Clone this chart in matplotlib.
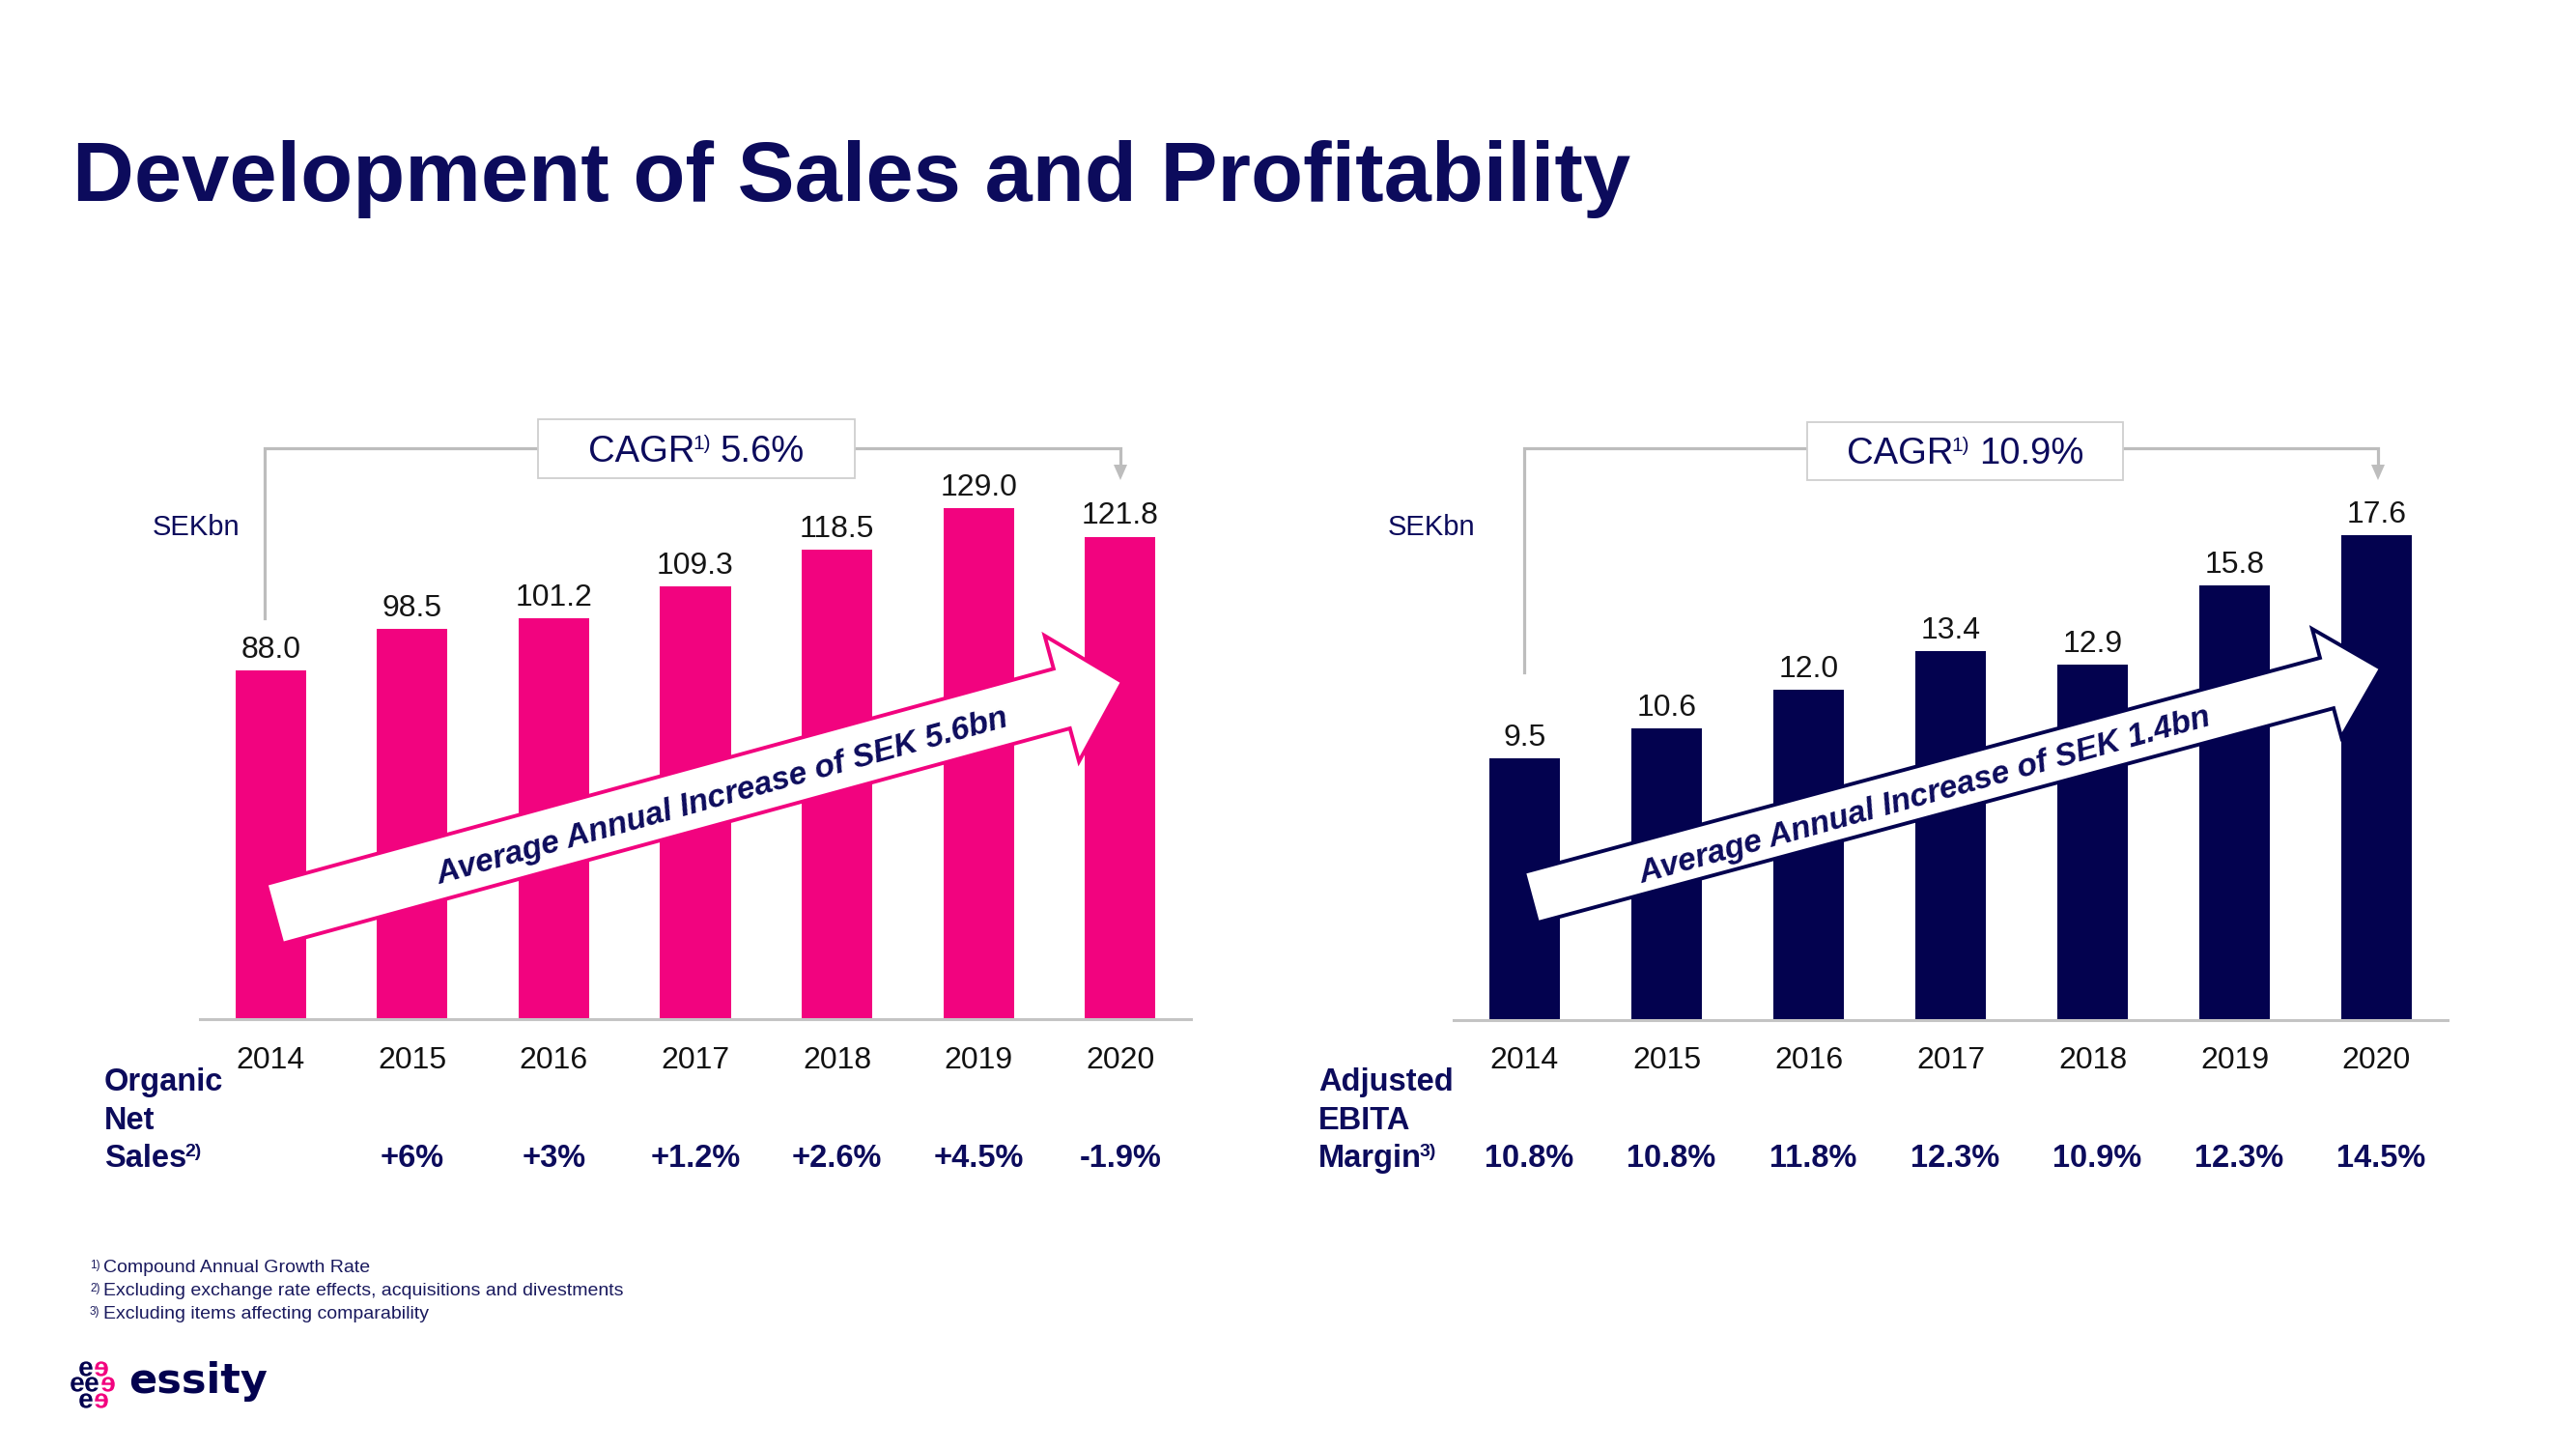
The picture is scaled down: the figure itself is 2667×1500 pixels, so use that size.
"""Essity slide: development of sales and profitability"""

import matplotlib

matplotlib.use("Agg")
import matplotlib.pyplot as plt
import matplotlib.transforms as mtransforms
from matplotlib.font_manager import FontProperties
from matplotlib.patches import PathPatch, Polygon, Rectangle
from matplotlib.textpath import TextPath
import numpy as np

W, H = 2667, 1500

years = ["2014", "2015", "2016", "2017", "2018", "2019", "2020"]
net_sales = [88.0, 98.5, 101.2, 109.3, 118.5, 129.0, 121.8]
organic_growth = ["", "+6%", "+3%", "+1.2%", "+2.6%", "+4.5%", "-1.9%"]
adj_ebita = [9.5, 10.6, 12.0, 13.4, 12.9, 15.8, 17.6]
ebita_margin = ["10.8%", "10.8%", "11.8%", "12.3%", "10.9%", "12.3%", "14.5%"]
cagr_sales = "5.6%"
cagr_ebita = "10.9%"

PINK = "#F2037F"
NAVY = "#03024F"
TNAVY = "#0C0B5C"
GREY = "#BDBDBD"

plt.rcParams["font.family"] = ["Liberation Sans", "DejaVu Sans"]

fig = plt.figure(figsize=(W / 100, H / 100), dpi=100)


def bar_panel(x0, x1, base, top_val, px_per_unit, values, color):
    h = top_val * px_per_unit
    ax = fig.add_axes([x0 / W, (H - base) / H, (x1 - x0) / W, h / H])
    ax.bar(range(len(values)), values, width=0.5, color=color, zorder=2)
    ax.set_xlim(-0.5, len(values) - 0.5)
    ax.set_ylim(0, top_val)
    for s in ("top", "left", "right"):
        ax.spines[s].set_visible(False)
    ax.spines["bottom"].set_color("#C4C4C4")
    ax.spines["bottom"].set_linewidth(2.2)
    ax.spines["bottom"].set_zorder(3)
    ax.set_xticks([])
    ax.set_yticks([])
    ax.patch.set_visible(False)
    for i, v in enumerate(values):
        ax.annotate(f"{v:.1f}", xy=(i, v), xytext=(0, 9.5), textcoords="offset points",
                    ha="center", va="baseline", fontsize=23, color="#151515")
    return ax


ax_l = bar_panel(207, 1233, 1055, 140, 4.10, net_sales, PINK)
ax_r = bar_panel(1505, 2534, 1056, 20, 28.5, adj_ebita, NAVY)

# overlay in pixel coordinates for all the slide decoration
ov = fig.add_axes([0, 0, 1, 1])
ov.set_xlim(0, W)
ov.set_ylim(H, 0)
ov.axis("off")
ov.patch.set_visible(False)

ov.text(75, 208, "Development of Sales and Profitability", fontsize=63.7,
        fontweight="bold", color=TNAVY, va="baseline")


def with_sup(x, y, main, sup, tail="", size=27, sup_size=15, weight="normal",
             color=TNAVY, gap=7):
    t = ov.text(x, y, main, fontsize=size, fontweight=weight, color=color,
                ha="left", va="baseline")
    s = ov.annotate(sup, xy=(1, 1), xycoords=t, xytext=(-1.5, 0),
                    textcoords="offset points", fontsize=sup_size,
                    fontweight=weight, color=color, ha="left", va="top")
    last = s
    if tail:
        last = ov.annotate(tail, xy=(1, 0), xycoords=(s, t), xytext=(gap, 0),
                           textcoords="offset points", fontsize=size,
                           fontweight=weight, color=color, ha="left", va="bottom")
    return t, last


def arrow_poly(tail, tip, w, hw, hl):
    tail = np.array(tail, float)
    tip = np.array(tip, float)
    u = (tip - tail) / np.linalg.norm(tip - tail)
    n = np.array([-u[1], u[0]])
    b = tip - u * hl
    return [tail + n * w / 2, b + n * w / 2, b + n * hw / 2, tip,
            b - n * hw / 2, b - n * w / 2, tail - n * w / 2]


renderer = fig.canvas.get_renderer()

panels = [
    dict(ax=ax_l, cagr=cagr_sales, box=(557, 434, 328, 61), base=478,
         bx=274, by=640, ex=1160, arrow=((284, 946), (1162, 706), 64, 135, 65),
         edge=PINK, txt="Average Annual Increase of SEK 5.6bn", tc=(748, 825),
         sek=158, row=["Organic", "Net", "Sales"], sup="2)", rx=108,
         pct=organic_growth, pdx=0.0),
    dict(ax=ax_r, cagr=cagr_ebita, box=(1871, 437, 327, 60), base=480,
         bx=1578, by=696, ex=2462, arrow=((1585, 929), (2465, 692), 54, 116, 58),
         edge=NAVY, txt="Average Annual Increase of SEK 1.4bn", tc=(1993, 824),
         sek=1437, row=["Adjusted", "EBITA", "Margin"], sup="3)", rx=1365,
         pct=ebita_margin, pdx=0.03),
]

for p in panels:
    ax = p["ax"]
    blend = mtransforms.blended_transform_factory(ax.transData, ov.transData)

    # CAGR bracket
    top = 464
    ov.plot([p["bx"], p["bx"], p["ex"], p["ex"]], [p["by"], top, top, 483],
            color=GREY, lw=2.3, solid_joinstyle="miter", zorder=1)
    ov.add_patch(Polygon([(p["ex"] - 7, 481), (p["ex"] + 7, 481), (p["ex"], 497)],
                         closed=True, color=GREY, lw=0, zorder=1))
    bx, by, bw, bh = p["box"]
    ov.add_patch(Rectangle((bx, by), bw, bh, facecolor="white", edgecolor="#CFCFCF",
                           lw=1.3, zorder=2))
    t, last = with_sup(0, p["base"], "CAGR", "1)", p["cagr"], size=27.5, sup_size=15)
    t.set_zorder(3)
    last.set_zorder(3)
    x0 = t.get_window_extent(renderer).x0
    x1 = last.get_window_extent(renderer).x1
    t.set_x(bx + bw / 2 - (x1 - x0) / 2)

    ov.text(p["sek"], 546, "SEKbn", fontsize=21, color=TNAVY, va="center")

    # big trend arrow
    ov.add_patch(Polygon(arrow_poly(*p["arrow"]), closed=True, facecolor="white",
                         edgecolor=p["edge"], lw=2.8, joinstyle="miter", zorder=4))
    ov.text(*p["tc"], p["txt"], fontsize=24, fontweight="bold", fontstyle="italic",
            color=TNAVY, rotation=15.5, rotation_mode="anchor", ha="center",
            va="center", zorder=5)

    # year labels and row below
    for i, yr in enumerate(years):
        ov.text(i, 1106, yr, transform=blend, ha="center", va="baseline",
                fontsize=23, color="#111111")
    for i, g in enumerate(p["pct"]):
        ov.text(i + p["pdx"], 1208, g, transform=blend, ha="center", va="baseline",
                fontsize=23.5, fontweight="bold", color=TNAVY)
    ov.text(p["rx"], 1129, p["row"][0], fontsize=23.5, fontweight="bold", color=TNAVY,
            va="baseline")
    ov.text(p["rx"], 1169, p["row"][1], fontsize=23.5, fontweight="bold", color=TNAVY,
            va="baseline")
    with_sup(p["rx"], 1208, p["row"][2], p["sup"], size=23.5, sup_size=14,
             weight="bold")

# footnotes
notes = [("1)", "Compound Annual Growth Rate"),
         ("2)", "Excluding exchange rate effects, acquisitions and divestments"),
         ("3)", "Excluding items affecting comparability")]
for k, (sup, note) in enumerate(notes):
    t = ov.text(107, 1317 + 24 * k, note, fontsize=14, color="#1A1A5E", va="baseline")
    ov.annotate(sup, xy=(0, 1), xycoords=t, xytext=(-2.5, 0), textcoords="offset points",
                fontsize=8.5, color="#1A1A5E", ha="right", va="top")

# logo
fp = FontProperties(family="Liberation Sans", weight="bold")
logo_es = [(89, 1417, NAVY, False), (105, 1417, PINK, True),
           (80, 1433, NAVY, False), (95, 1433, NAVY, False), (112, 1433, PINK, True),
           (89, 1450, NAVY, False), (105, 1450, PINK, True)]
for cx, cy, col, mirror in logo_es:
    tp = TextPath((0, 0), "e", size=28, prop=fp)
    bb = tp.get_extents()
    tr = (mtransforms.Affine2D()
          .translate(-(bb.x0 + bb.x1) / 2, -(bb.y0 + bb.y1) / 2)
          .scale(-1 if mirror else 1, -1)
          .translate(cx, cy))
    ov.add_patch(PathPatch(tr.transform_path(tp), facecolor=col, lw=0))
ov.text(133, 1442, "essity", family="DejaVu Sans", fontweight="bold", fontsize=31,
        color=NAVY, va="baseline")

fig.savefig("out.png", dpi=100, facecolor="white")
